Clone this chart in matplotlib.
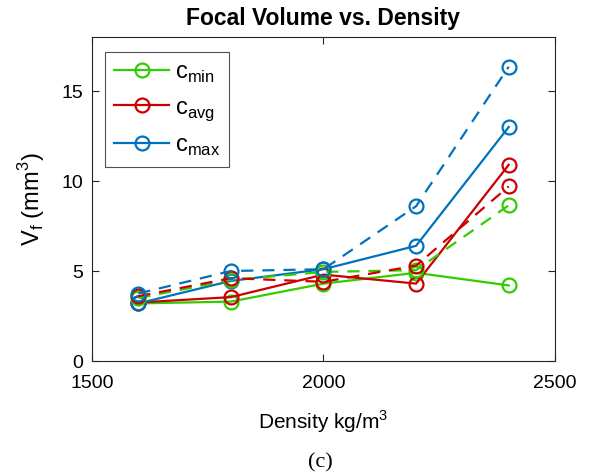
import matplotlib
matplotlib.use("Agg")
import matplotlib.pyplot as plt

density = [1600, 1800, 2000, 2200, 2400]

# solid series
vf_min = [3.2, 3.3, 4.3, 4.9, 4.2]
vf_avg = [3.25, 3.55, 4.8, 4.3, 10.9]
vf_max = [3.2, 4.45, 5.1, 6.4, 13.0]

# dashed series
vf_min_d = [3.5, 4.5, 4.95, 5.05, 8.65]
vf_avg_d = [3.6, 4.6, 4.4, 5.3, 9.7]
vf_max_d = [3.75, 5.0, 5.1, 8.6, 16.35]

labels = ["c$_{\\rm min}$", "c$_{\\rm avg}$", "c$_{\\rm max}$"]
colors = ["#33CC00", "#CC0000", "#0072BD"]

plt.rcParams["font.family"] = ["Liberation Sans", "DejaVu Sans"]
plt.rcParams["mathtext.fontset"] = "custom"
plt.rcParams["mathtext.rm"] = "Liberation Sans"

fig = plt.figure(figsize=(5.92, 4.75), dpi=100)
ax = fig.add_axes([0.1554, 0.24, 0.7821, 0.682])

mk = dict(marker="o", markersize=10, markerfacecolor="none", markeredgewidth=1.6, linewidth=1.6)
for ys, c, lab in zip([vf_min, vf_avg, vf_max], colors, labels):
    ax.plot(density, ys, color=c, label=lab, **mk)
for ys, c in zip([vf_min_d, vf_avg_d, vf_max_d], colors):
    ax.plot(density, ys, color=c, linestyle=(0, (5.5, 4)), **mk)

ax.set_xlim(1500, 2500)
ax.set_ylim(0, 18)
ax.set_xticks([1500, 2000, 2500])
ax.set_yticks([0, 5, 10, 15])
ax.tick_params(direction="in", top=True, right=True, labelsize=14, length=5, color="#262626")
ax.tick_params(axis="x", pad=10)
ax.tick_params(axis="y", pad=6.5)
for s in ax.spines.values():
    s.set_color("#262626")
    s.set_linewidth(0.8)

ax.set_title("Focal Volume vs. Density", fontsize=16.5, fontweight="bold", pad=9)
ax.set_xlabel("Density kg/m$^3$", fontsize=15, labelpad=12)
ax.set_ylabel("V$_{\\rm f}$ (mm$^3$)", fontsize=17, labelpad=10)

leg = ax.legend(loc="upper left", bbox_to_anchor=(0.028, 0.954), borderaxespad=0, fontsize=17,
                frameon=True, fancybox=False, edgecolor="#262626", handlelength=2.3,
                borderpad=0.4, labelspacing=0.5, handletextpad=0.25)
leg.get_frame().set_linewidth(0.8)

fig.text(0.541, 0.016, "(c)", family="Liberation Serif", fontsize=16, ha="center")

fig.savefig("out.png", dpi=100)
